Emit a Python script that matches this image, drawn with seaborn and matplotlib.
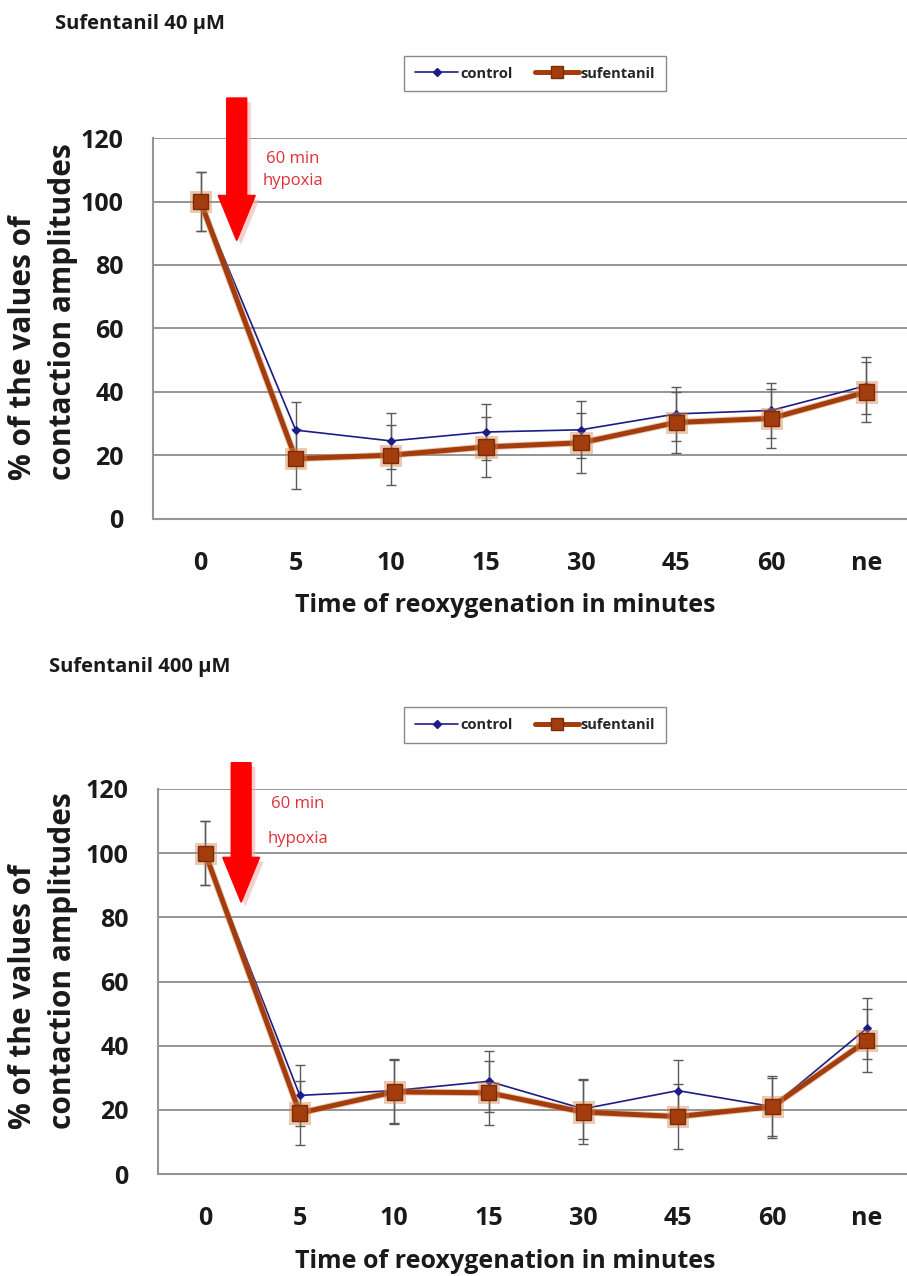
import numpy as np
import pandas as pd
import matplotlib
matplotlib.use("Agg")
import matplotlib.pyplot as plt
import seaborn as sns
from matplotlib.patches import FancyArrow
from matplotlib.lines import Line2D
import matplotlib.patheffects as pe

# ---------------- data ----------------
categories = ["0", "5", "10", "15", "30", "45", "60", "ne"]

ctrl_40 = [100, 28.0, 24.6, 27.4, 28.1, 33.1, 34.2, 42.0]
ctrl_40_err = [9.3, 9.0, 8.7, 8.7, 9.0, 8.6, 8.7, 9.0]
suf_40 = [100, 19.0, 20.1, 22.7, 24.0, 30.4, 31.7, 40.0]
suf_40_err = [9.3, 9.5, 9.5, 9.5, 9.5, 9.6, 9.4, 9.6]

ctrl_400 = [100, 24.5, 26.0, 28.9, 20.3, 26.0, 21.0, 45.4]
ctrl_400_err = [10.0, 9.5, 10.0, 9.5, 9.3, 9.5, 9.7, 9.5]
suf_400 = [100, 19.0, 25.6, 25.3, 19.3, 17.9, 21.0, 41.5]
suf_400_err = [10.0, 10.0, 10.0, 10.0, 10.0, 10.0, 9.0, 9.8]

titles = ["Sufentanil 40 µM", "Sufentanil 400 µM"]
series_names = ["control", "sufentanil"]
y_ticks = [0, 20, 40, 60, 80, 100, 120]
x_label = "Time of reoxygenation in minutes"
y_label = "% of the values of\ncontaction amplitudes"
arrow_text = ["60 min", "hypoxia"]

# ---------------- style ----------------
sns.set_theme(style="white")
plt.rcParams["font.family"] = ["Open Sans", "DejaVu Sans"]

W, H = 907, 1276
fig = plt.figure(figsize=(W / 100, H / 100), dpi=100)

CTRL_C = "#1c1c86"
SUF_C = "#a33d0d"
SUF_EDGE = "#7a2c08"
GRID_C = "#959595"
TXT_C = "#1a1a1a"
ERR_C = "#5a5a5a"

# panel geometry in pixels: (left, right, top, bottom)
panels = [
    dict(px=(153, 914, 138, 519), ctrl=ctrl_40, ctrl_err=ctrl_40_err, suf=suf_40, suf_err=suf_40_err,
         title_x=55, title_y=24, xlabel_y=605, ylabel_y=312, legend_y=73.5,
         arrow=dict(x=0.38, top=132.6, tip=87.7, hl=14.2),
         txt=[(0.97, 113.5), (0.97, 106.6)]),
    dict(px=(158, 914, 789, 1174), ctrl=ctrl_400, ctrl_err=ctrl_400_err, suf=suf_400, suf_err=suf_400_err,
         title_x=49, title_y=667, xlabel_y=1261, ylabel_y=961, legend_y=725,
         arrow=dict(x=0.38, top=128.2, tip=84.7, hl=14.0),
         txt=[(0.98, 115.3), (0.98, 104.4)]),
]

pos = np.arange(len(categories))

for i, p in enumerate(panels):
    l, r, t, b = p["px"]
    ax = fig.add_axes([l / W, 1 - b / H, (r - l) / W, (b - t) / H])
    ax.set_facecolor("white")

    # error bars
    ax.errorbar(pos, p["ctrl"], yerr=p["ctrl_err"], fmt="none", ecolor=ERR_C,
                elinewidth=1.0, capsize=3.8, capthick=1.0, zorder=2)
    ax.errorbar(pos, p["suf"], yerr=p["suf_err"], fmt="none", ecolor=ERR_C,
                elinewidth=1.0, capsize=3.8, capthick=1.0, zorder=2)

    # control line
    df_c = pd.DataFrame({"x": pos, "y": p["ctrl"]})
    sns.lineplot(data=df_c, x="x", y="y", ax=ax, color=CTRL_C, lw=1.2,
                 marker="D", markersize=4.5, markeredgecolor=CTRL_C, zorder=3)
    # sufentanil line
    df_s = pd.DataFrame({"x": pos, "y": p["suf"]})
    sns.lineplot(data=df_s, x="x", y="y", ax=ax, color=SUF_C, lw=3.6,
                 marker="s", markersize=11, markerfacecolor=SUF_C,
                 markeredgecolor=SUF_EDGE, markeredgewidth=1.0, zorder=4)
    ax.lines[-1].set_path_effects([pe.Stroke(linewidth=5.0, foreground="#d4854f", alpha=0.45),
                                   pe.Normal()])

    ax.set_xlim(-0.5, len(categories) - 0.5)
    ax.set_ylim(0, 120)
    ax.set_yticks(y_ticks)
    ax.set_yticklabels([str(v) for v in y_ticks], fontsize=18, fontweight="bold", color=TXT_C)
    ax.set_xticks(pos)
    ax.set_xticklabels(categories, fontsize=18, fontweight="bold", color=TXT_C)
    ax.set_xticks(np.arange(-0.5, len(categories), 1.0), minor=True)
    ax.tick_params(axis="x", which="major", length=0, pad=23)
    ax.tick_params(axis="x", which="minor", length=7, width=1.3, color=GRID_C, direction="out")
    ax.tick_params(axis="y", which="major", length=7, width=1.3, color=GRID_C, direction="out", pad=14)
    ax.set_xlabel("")
    ax.set_ylabel("")

    ax.yaxis.grid(True, color=GRID_C, lw=1.4)
    ax.xaxis.grid(False)
    ax.set_axisbelow(True)
    for s in ["top", "right"]:
        ax.spines[s].set_visible(False)
    for s in ["left", "bottom"]:
        ax.spines[s].set_color(GRID_C)
        ax.spines[s].set_linewidth(1.5)
        ax.spines[s].set_zorder(1)

    # hypoxia arrow
    a = p["arrow"]
    arr = FancyArrow(a["x"], a["top"], 0, a["tip"] - a["top"], width=0.21, head_width=0.39,
                     head_length=a["hl"], length_includes_head=True, color="#ff0000",
                     clip_on=False, zorder=6)
    arr.set_path_effects([pe.SimplePatchShadow(offset=(3, -3), shadow_rgbFace="#f4b0b0", alpha=0.6),
                          pe.Normal()])
    ax.add_patch(arr)
    for (tx, ty), s in zip(p["txt"], arrow_text):
        ax.text(tx, ty, s, color="#e0303a", fontsize=12, ha="center", va="center", zorder=6)

    # titles and labels
    fig.text(p["title_x"] / W, 1 - p["title_y"] / H, titles[i], fontsize=14.5, fontweight="bold",
             color=TXT_C, ha="left", va="center")
    fig.text(505 / W, 1 - p["xlabel_y"] / H, x_label, fontsize=18, fontweight="bold",
             color=TXT_C, ha="center", va="center")
    fig.text(43 / W, 1 - p["ylabel_y"] / H, y_label, fontsize=21.5, fontweight="bold",
             color=TXT_C, ha="center", va="center", rotation=90, multialignment="left",
             linespacing=1.4)

    # legend
    handles = [
        Line2D([], [], color=CTRL_C, lw=1.2, marker="D", markersize=4.5),
        Line2D([], [], color=SUF_C, lw=3.6, marker="s", markersize=9,
               markeredgecolor=SUF_EDGE),
    ]
    fig.legend(handles, series_names, loc="center", bbox_to_anchor=(535 / W, 1 - p["legend_y"] / H),
               bbox_transform=fig.transFigure, ncol=2, frameon=True, fancybox=False,
               edgecolor="#8a8a8a", framealpha=1, handlelength=3.0, handletextpad=0.15,
               columnspacing=1.5, borderpad=0.75,
               prop=dict(family=["Open Sans", "DejaVu Sans"], weight="bold", size=10.5))

fig.savefig("out.png", dpi=100, facecolor="white")
